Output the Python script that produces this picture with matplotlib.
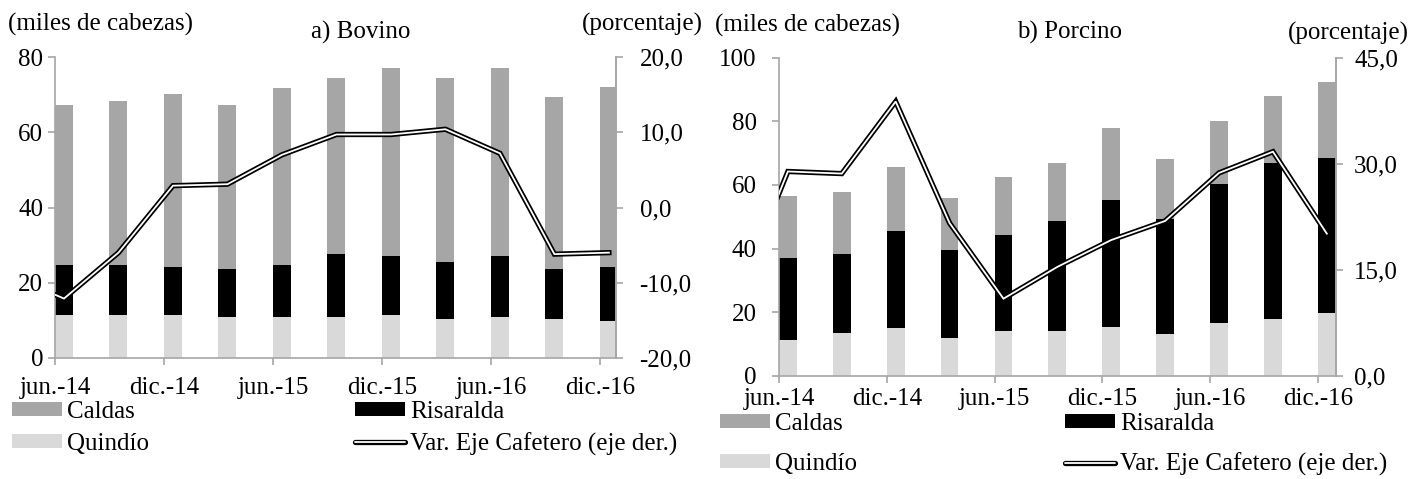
import matplotlib
matplotlib.use("Agg")
import matplotlib.pyplot as plt
import matplotlib.patheffects as pe
from matplotlib.lines import Line2D
from matplotlib.patches import Patch
import numpy as np

plt.rcParams['font.family'] = ['Liberation Serif', 'DejaVu Serif']

# ---------------- data ----------------
periods = ["jun.-14", "sep.-14", "dic.-14", "mar.-15", "jun.-15", "sep.-15",
           "dic.-15", "mar.-16", "jun.-16", "sep.-16", "dic.-16"]
tick_labels = ["jun.-14", "dic.-14", "jun.-15", "dic.-15", "jun.-16", "dic.-16"]

# a) Bovino (miles de cabezas), stacked segments
bov_quindio = [11.4, 11.4, 11.3, 10.9, 10.9, 10.9, 11.4, 10.4, 10.8, 10.4, 9.8]
bov_risaralda = [13.3, 13.3, 12.8, 12.8, 13.8, 16.8, 15.8, 15.2, 16.4, 13.2, 14.3]
bov_caldas = [42.5, 43.6, 46.1, 43.5, 47.1, 46.6, 49.8, 48.7, 49.8, 45.9, 48.0]
# Var. Eje Cafetero (%); prev value = mar.-14 (outside the axis, clipped)
bov_var_prev = -9.0
bov_var = [-12.1, -6.0, 2.9, 3.1, 7.0, 9.7, 9.7, 10.4, 7.2, -6.2, -6.0]

# b) Porcino (miles de cabezas)
por_quindio = [11.2, 13.5, 14.9, 11.8, 14.2, 14.2, 15.4, 13.0, 16.6, 17.8, 19.6]
por_risaralda = [25.9, 24.9, 30.6, 27.7, 30.0, 34.6, 39.8, 36.3, 43.6, 49.0, 49.0]
por_caldas = [19.4, 19.4, 20.2, 16.5, 18.4, 18.0, 22.6, 18.7, 20.0, 21.2, 23.9]
por_var_prev = 10.0
por_var = [28.9, 28.6, 38.8, 21.6, 10.9, 15.4, 19.2, 21.9, 28.7, 31.7, 20.1]

left_ticks_a = [0, 20, 40, 60, 80]
right_ticks_a = [-20, -10, 0, 10, 20]
right_labels_a = ["-20,0", "-10,0", "0,0", "10,0", "20,0"]
left_ticks_b = [0, 20, 40, 60, 80, 100]
right_ticks_b = [0, 15, 30, 45]
right_labels_b = ["0,0", "15,0", "30,0", "45,0"]

C_CALDAS = "#a6a6a6"
C_RIS = "#000000"
C_QUI = "#d9d9d9"
C_AXIS = "#a6a6a6"
FS = 18

W, H = 1427, 479
fig = plt.figure(figsize=(W / 100, H / 100), dpi=100)

LINE_PE = [pe.Stroke(linewidth=3.8, foreground="black"), pe.Normal()]


def px_axes(x0, y0, x1, y1):
    return fig.add_axes([x0 / W, 1 - y1 / H, (x1 - x0) / W, (y1 - y0) / H])


def draw_panel(ax, qui, ris, cal, var_prev, var, lt, rt, rlabels, rlim, xright,
               lpad, rpad, xpad):
    n = len(periods)
    x = np.arange(n)
    bw = 0.33
    qui = np.array(qui); ris = np.array(ris); cal = np.array(cal)
    ax.bar(x, qui, bw, color=C_QUI, zorder=2)
    ax.bar(x, ris, bw, bottom=qui, color=C_RIS, zorder=2)
    ax.bar(x, cal, bw, bottom=qui + ris, color=C_CALDAS, zorder=2)
    ax.set_xlim(-bw / 2, xright)
    ax.set_ylim(lt[0], lt[-1])
    ax.set_yticks(lt)
    ax.set_yticklabels([str(v) for v in lt])
    tick_pos = [i - bw / 2 for i in range(0, n, 2)]
    ax.set_xticks(tick_pos)
    ax.set_xticklabels(tick_labels)
    ax.spines["top"].set_visible(False)
    for s in ["left", "bottom", "right"]:
        ax.spines[s].set_color(C_AXIS)
        ax.spines[s].set_linewidth(1.2)
    ax.tick_params(axis="y", colors=C_AXIS, labelcolor="black", length=5,
                   width=1.2, labelsize=FS, pad=lpad)
    ax.tick_params(axis="x", colors=C_AXIS, labelcolor="black", length=5,
                   width=1.2, labelsize=FS, pad=xpad)

    axr = ax.twinx()
    axr.set_ylim(rlim)
    axr.set_yticks(rt)
    axr.set_yticklabels(rlabels)
    for s in ["top", "left", "bottom"]:
        axr.spines[s].set_visible(False)
    axr.spines["right"].set_color(C_AXIS)
    axr.spines["right"].set_linewidth(1.2)
    axr.tick_params(axis="y", colors=C_AXIS, labelcolor="black", length=5,
                    width=1.2, labelsize=FS, pad=rpad)
    xl = np.concatenate([[-1], x])
    yl = np.concatenate([[var_prev], var])
    axr.plot(xl, yl, color="white", lw=1.3, solid_joinstyle="miter",
             path_effects=LINE_PE, zorder=3)
    axr.set_xlim(ax.get_xlim())
    return axr


ax1 = px_axes(55, 57, 616, 358)
draw_panel(ax1, bov_quindio, bov_risaralda, bov_caldas, bov_var_prev, bov_var,
           left_ticks_a, right_ticks_a, right_labels_a, (-20, 20), 10.13,
           lpad=3.5, rpad=12, xpad=9)

ax2 = px_axes(779, 57.7, 1336, 375.7)
draw_panel(ax2, por_quindio, por_risaralda, por_caldas, por_var_prev, por_var,
           left_ticks_b, right_ticks_b, right_labels_b, (0, 45), 10.17,
           lpad=11, rpad=8, xpad=4)


def ftext(x, y, s, ha="left"):
    fig.text(x / W, 1 - y / H, s, ha=ha, va="center", fontsize=FS)

ftext(8, 24, "(miles de cabezas)")
ftext(361, 32, "a) Bovino", ha="center")
ftext(582, 24, "(porcentaje)")
ftext(715, 25, "(miles de cabezas)")
ftext(1070, 32, "b) Porcino", ha="center")
ftext(1288, 33, "(porcentaje)")

# legends
h_cal = Patch(facecolor=C_CALDAS, edgecolor="none")
h_ris = Patch(facecolor=C_RIS, edgecolor="none")
h_qui = Patch(facecolor=C_QUI, edgecolor="none")
h_var = Line2D([], [], color="white", lw=1.3, solid_capstyle="round",
               path_effects=[pe.Stroke(linewidth=3.8, foreground="black",
                                       capstyle="round"), pe.Normal()])


def legend_col(x, y, handles, labels, spacing):
    return fig.legend(handles, labels, loc="upper left",
                      bbox_to_anchor=(x / W, 1 - y / H), frameon=False,
                      fontsize=FS, handlelength=2.0, handleheight=0.5,
                      handletextpad=0.22, labelspacing=spacing, borderpad=0,
                      borderaxespad=0)

legend_col(12, 401, [h_cal, h_qui], ["Caldas", "Quindío"], 0.38)
legend_col(355, 401, [h_ris, h_var], ["Risaralda", "Var. Eje Cafetero (eje der.)"], 0.38)
legend_col(720, 413, [h_cal, h_qui], ["Caldas", "Quindío"], 0.72)
legend_col(1065, 413, [h_ris, h_var], ["Risaralda", "Var. Eje Cafetero (eje der.)"], 0.72)

fig.savefig("out.png", dpi=100)
